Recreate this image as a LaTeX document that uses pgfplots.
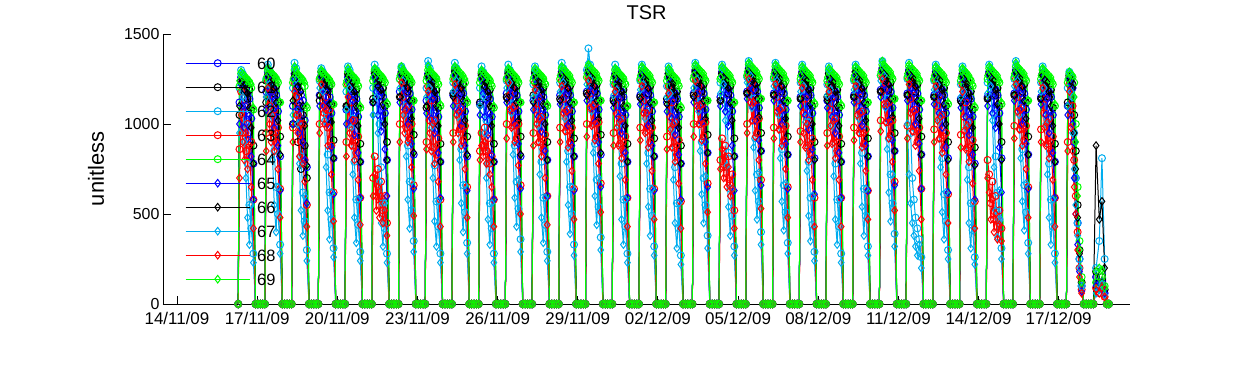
\documentclass[border=0pt]{standalone}
\usepackage{pgfplots}
\pgfplotsset{compat=1.18}
\usepackage{pgfplotstable}
\usepackage{fontspec}
\setmainfont{Liberation Sans}

\pgfplotstableread{
t a b c d e f g h i j
2.29 0 0 0 0 0 0 0 0 0 0
2.34 1120 1050 1200 860 1210 1000 1100 950 700 1240
2.40 1260 1240 1300 1180 1280 1220 1230 1280 1050 1290
2.46 1240 1260 1280 950 1270 1100 1240 1150 900 1280
2.52 1220 1180 1240 1100 1260 980 1190 900 800 1270
2.58 1190 1230 1000 850 1250 1100 1220 700 950 1260
2.64 1170 1140 780 1000 1240 920 1170 480 750 1250
2.71 1140 1190 550 820 1230 1050 1090 330 880 1240
2.78 1030 1080 420 900 1200 820 980 550 650 1220
2.86 780 880 280 580 1080 580 780 230 420 1090
2.94 0 0 0 0 0 0 0 0 0 0
3.03 0 0 0 0 0 0 0 0 0 0
3.12 0 0 0 0 0 0 0 0 0 0
3.21 0 0 0 0 0 0 0 0 0 0
3.29 0 0 0 0 0 0 0 0 0 0
3.34 1180 1120 1250 950 1240 1080 1150 1150 850 1260
3.40 1290 1270 1330 1240 1300 1260 1270 1320 1200 1310
3.46 1260 1280 1300 1100 1290 1180 1260 1220 1000 1300
3.52 1240 1220 1270 1180 1280 1050 1220 1050 900 1290
3.58 1210 1250 1100 950 1270 1150 1240 800 1050 1280
3.64 1190 1170 850 1080 1260 980 1200 550 850 1270
3.71 1160 1210 650 900 1250 1100 1120 400 950 1260
3.78 1070 1120 500 980 1230 880 1020 650 750 1240
3.86 820 930 330 640 1120 630 830 280 480 1120
3.94 0 0 0 0 0 0 0 0 0 0
4.03 0 0 0 0 0 0 0 0 0 0
4.12 0 0 0 0 0 0 0 0 0 0
4.21 0 0 0 0 0 0 0 0 0 0
4.29 0 0 0 0 0 0 0 0 0 0
4.34 1100 1000 1200 980 1230 1000 1130 1050 900 1250
4.40 1280 1260 1340 1230 1300 1250 1280 1310 1180 1320
4.46 1240 1150 1310 1150 1280 1200 1260 1250 1050 1300
4.52 1210 900 1260 1050 1270 1080 1210 1000 950 1280
4.58 1190 1100 1080 1120 1260 950 1230 780 820 1270
4.64 1160 750 820 900 1250 1120 1180 520 1000 1260
4.71 1130 1050 620 1000 1240 900 1100 380 780 1250
4.78 1020 880 460 800 1210 800 990 600 680 1230
4.86 760 700 300 550 1090 560 770 240 430 1100
4.94 0 0 0 0 0 0 0 0 0 0
5.03 0 0 0 0 0 0 0 0 0 0
5.12 0 0 0 0 0 0 0 0 0 0
5.21 0 0 0 0 0 0 0 0 0 0
5.29 0 0 0 0 0 0 0 0 0 0
5.34 1160 1130 1240 1000 1250 1100 1160 1200 950 1260
5.40 1270 1290 1310 1250 1290 1260 1270 1300 1220 1300
5.46 1250 1260 1290 1180 1280 1200 1250 1180 1100 1290
5.52 1230 1230 1240 1060 1270 1100 1220 1020 1000 1280
5.58 1210 1250 1070 1150 1260 1180 1240 760 1080 1270
5.64 1190 1180 830 980 1250 1000 1190 520 880 1260
5.71 1150 1210 620 1080 1240 1120 1110 360 980 1250
5.78 1060 1110 470 880 1220 870 1010 620 720 1230
5.86 810 910 310 620 1110 610 810 260 460 1110
5.94 0 0 0 0 0 0 0 0 0 0
6.03 0 0 0 0 0 0 0 0 0 0
6.12 0 0 0 0 0 0 0 0 0 0
6.21 0 0 0 0 0 0 0 0 0 0
6.29 0 0 0 0 0 0 0 0 0 0
6.34 1080 1100 1180 900 1220 1000 1100 1080 820 1240
6.40 1260 1280 1320 1220 1290 1240 1270 1300 1150 1310
6.46 1240 1260 1300 1000 1280 1150 1250 1200 950 1290
6.52 1220 1210 1250 1120 1270 1020 1200 980 880 1280
6.58 1190 1240 1030 880 1260 1130 1230 720 1020 1270
6.64 1170 1150 790 1020 1250 940 1180 480 800 1260
6.71 1140 1190 580 840 1240 1070 1100 340 900 1250
6.78 1040 1090 440 930 1210 840 990 580 690 1220
6.86 790 890 290 590 1090 590 790 240 440 1100
6.94 0 0 0 0 0 0 0 0 0 0
7.03 0 0 0 0 0 0 0 0 0 0
7.12 0 0 0 0 0 0 0 0 0 0
7.21 0 0 0 0 0 0 0 0 0 0
7.29 0 0 0 0 0 0 0 0 0 0
7.34 1120 1140 1200 700 1240 1050 1120 1050 600 1260
7.40 1280 1290 1330 820 1300 1260 1280 1310 720 1310
7.46 1250 1270 1300 600 1290 1180 1260 1150 520 1300
7.52 1230 1220 1260 750 1280 1050 1210 950 650 1290
7.58 1200 1250 1000 550 1270 1150 1240 680 480 1280
7.64 1180 1160 760 680 1260 960 1190 450 600 1270
7.71 1150 1200 560 520 1250 1090 1110 320 450 1260
7.78 1060 1100 420 600 1230 860 1000 560 520 1240
7.86 800 900 280 450 1110 600 800 230 380 1120
7.94 0 0 0 0 0 0 0 0 0 0
8.03 0 0 0 0 0 0 0 0 0 0
8.12 0 0 0 0 0 0 0 0 0 0
8.21 0 0 0 0 0 0 0 0 0 0
8.29 0 0 0 0 0 0 0 0 0 0
8.34 1180 1150 1250 1000 1250 1120 1150 1200 900 1270
8.40 1290 1280 1320 1260 1310 1270 1280 1310 1230 1320
8.46 1260 1280 1300 1150 1290 1200 1260 1240 1050 1300
8.52 1240 1230 1270 1200 1280 1080 1230 1050 950 1290
8.58 1220 1250 1100 980 1270 1170 1250 820 1080 1280
8.64 1200 1180 880 1100 1260 1000 1200 580 900 1270
8.71 1170 1220 680 920 1250 1120 1130 420 980 1260
8.78 1080 1130 520 1000 1230 890 1030 680 760 1240
8.86 830 940 350 660 1130 640 840 290 490 1130
8.94 0 0 0 0 0 0 0 0 0 0
9.03 0 0 0 0 0 0 0 0 0 0
9.12 0 0 0 0 0 0 0 0 0 0
9.21 0 0 0 0 0 0 0 0 0 0
9.29 0 0 0 0 0 0 0 0 0 0
9.34 1130 1090 1200 900 1240 1060 1100 1150 860 1260
9.40 1280 1270 1350 1210 1300 1250 1270 1330 1180 1320
9.46 1250 1260 1310 1020 1290 1160 1250 1200 950 1300
9.52 1220 1200 1260 1130 1280 1030 1210 980 850 1290
9.58 1190 1240 1020 870 1270 1140 1230 700 1000 1280
9.64 1170 1140 770 1020 1260 950 1180 460 780 1270
9.71 1140 1190 570 830 1250 1070 1100 320 880 1260
9.78 1040 1090 430 920 1220 840 990 570 680 1230
9.86 790 890 280 580 1100 590 790 230 430 1110
9.94 0 0 0 0 0 0 0 0 0 0
10.03 0 0 0 0 0 0 0 0 0 0
10.12 0 0 0 0 0 0 0 0 0 0
10.21 0 0 0 0 0 0 0 0 0 0
10.29 0 0 0 0 0 0 0 0 0 0
10.34 1160 1170 1230 950 1250 1100 1150 1180 900 1270
10.40 1290 1300 1340 1250 1310 1270 1290 1320 1220 1320
10.46 1260 1280 1310 1130 1290 1200 1270 1240 1050 1310
10.52 1240 1230 1270 1190 1280 1070 1230 1040 950 1300
10.58 1220 1250 1090 970 1270 1160 1250 800 1070 1290
10.64 1200 1170 860 1090 1260 990 1200 560 880 1280
10.71 1170 1220 660 910 1250 1110 1130 400 970 1270
10.78 1070 1120 510 990 1230 880 1020 660 750 1250
10.86 820 930 340 650 1120 630 830 280 480 1130
10.94 0 0 0 0 0 0 0 0 0 0
11.03 0 0 0 0 0 0 0 0 0 0
11.12 0 0 0 0 0 0 0 0 0 0
11.21 0 0 0 0 0 0 0 0 0 0
11.29 0 0 0 0 0 0 0 0 0 0
11.34 1110 1120 1200 850 1230 1050 1100 1100 800 1250
11.40 1270 1280 1320 950 1290 1250 1270 1300 880 1300
11.46 1240 1260 1290 880 1280 1170 1250 1150 820 1290
11.52 1220 1210 1250 980 1270 1040 1210 950 900 1280
11.58 1190 1240 1020 850 1260 1130 1230 700 780 1270
11.64 1170 1150 780 920 1250 940 1180 470 850 1260
11.71 1140 1190 560 780 1240 1060 1100 330 720 1250
11.78 1040 1090 420 820 1210 830 990 560 650 1220
11.86 790 890 280 580 1090 580 790 230 430 1100
11.94 0 0 0 0 0 0 0 0 0 0
12.03 0 0 0 0 0 0 0 0 0 0
12.12 0 0 0 0 0 0 0 0 0 0
12.21 0 0 0 0 0 0 0 0 0 0
12.29 0 0 0 0 0 0 0 0 0 0
12.34 1170 1150 1240 1000 1250 1120 1140 1200 920 1260
12.40 1290 1280 1330 1250 1300 1260 1280 1310 1230 1310
12.46 1260 1270 1300 1160 1290 1200 1260 1230 1080 1300
12.52 1240 1220 1270 1200 1280 1080 1230 1060 980 1290
12.58 1210 1250 1110 990 1270 1170 1240 830 1090 1280
12.64 1190 1170 880 1100 1260 1000 1200 590 900 1270
12.71 1160 1210 680 920 1250 1120 1120 430 990 1260
12.78 1070 1120 530 1000 1230 890 1020 690 770 1240
12.86 820 930 360 660 1120 640 830 290 500 1120
12.94 0 0 0 0 0 0 0 0 0 0
13.03 0 0 0 0 0 0 0 0 0 0
13.12 0 0 0 0 0 0 0 0 0 0
13.21 0 0 0 0 0 0 0 0 0 0
13.29 0 0 0 0 0 0 0 0 0 0
13.34 1130 1160 1220 950 1240 1080 1120 1150 880 1260
13.40 1280 1290 1320 1230 1300 1250 1280 1300 1190 1310
13.46 1250 1270 1290 1080 1290 1170 1260 1180 1000 1300
13.52 1230 1220 1250 1150 1280 1040 1210 990 900 1290
13.58 1200 1240 1040 900 1270 1140 1230 720 1030 1280
13.64 1180 1160 790 1040 1260 960 1190 480 820 1270
13.71 1150 1200 590 860 1250 1080 1110 340 910 1260
13.78 1050 1100 440 940 1220 850 1000 590 700 1230
13.86 800 900 290 600 1100 600 800 240 440 1110
13.94 0 0 0 0 0 0 0 0 0 0
14.03 0 0 0 0 0 0 0 0 0 0
14.12 0 0 0 0 0 0 0 0 0 0
14.21 0 0 0 0 0 0 0 0 0 0
14.29 0 0 0 0 0 0 0 0 0 0
14.34 1160 1140 1230 980 1250 1110 1130 1180 900 1270
14.40 1290 1280 1340 1240 1310 1270 1280 1320 1210 1320
14.46 1260 1270 1310 1140 1290 1190 1260 1230 1060 1310
14.52 1240 1220 1270 1190 1280 1070 1230 1030 960 1300
14.58 1210 1250 1080 960 1270 1160 1240 790 1070 1290
14.64 1190 1170 850 1080 1260 990 1200 550 870 1280
14.71 1160 1210 650 900 1250 1110 1120 390 960 1270
14.78 1070 1110 500 980 1230 880 1020 650 740 1240
14.86 820 920 330 640 1120 630 820 270 470 1120
14.94 0 0 0 0 0 0 0 0 0 0
15.03 0 0 0 0 0 0 0 0 0 0
15.12 0 0 0 0 0 0 0 0 0 0
15.21 0 0 0 0 0 0 0 0 0 0
15.29 0 0 0 0 0 0 0 0 0 0
15.34 1180 1170 1300 1000 1260 1130 1160 1220 930 1280
15.40 1300 1290 1420 1260 1320 1280 1290 1340 1240 1330
15.46 1270 1280 1330 1170 1300 1210 1270 1250 1090 1320
15.52 1250 1230 1280 1210 1290 1090 1240 1070 990 1310
15.58 1220 1260 1120 1000 1280 1180 1250 840 1100 1300
15.64 1200 1180 890 1110 1270 1010 1210 600 910 1290
15.71 1170 1220 690 930 1260 1130 1130 440 1000 1280
15.78 1080 1130 540 1010 1240 900 1030 700 780 1250
15.86 830 940 370 670 1130 650 840 300 510 1130
15.94 0 0 0 0 0 0 0 0 0 0
16.03 0 0 0 0 0 0 0 0 0 0
16.12 0 0 0 0 0 0 0 0 0 0
16.21 0 0 0 0 0 0 0 0 0 0
16.29 0 0 0 0 0 0 0 0 0 0
16.34 1140 1130 1220 950 1240 1090 1120 1160 880 1260
16.40 1280 1270 1330 1220 1300 1250 1270 1310 1180 1310
16.46 1250 1260 1300 1060 1290 1170 1250 1190 980 1300
16.52 1230 1210 1260 1140 1280 1040 1210 990 880 1290
16.58 1200 1240 1030 890 1270 1140 1230 710 1020 1280
16.64 1180 1150 780 1030 1260 950 1180 470 810 1270
16.71 1150 1190 580 850 1250 1070 1100 330 900 1260
16.78 1050 1090 430 930 1220 840 990 580 690 1230
16.86 790 890 280 590 1100 590 790 230 430 1100
16.94 0 0 0 0 0 0 0 0 0 0
17.03 0 0 0 0 0 0 0 0 0 0
17.12 0 0 0 0 0 0 0 0 0 0
17.21 0 0 0 0 0 0 0 0 0 0
17.29 0 0 0 0 0 0 0 0 0 0
17.34 1160 1150 1240 980 1250 1110 1140 1190 910 1270
17.40 1290 1280 1330 1240 1310 1270 1280 1320 1210 1320
17.46 1260 1270 1300 1130 1290 1190 1260 1220 1060 1310
17.52 1240 1220 1270 1190 1280 1070 1230 1030 950 1300
17.58 1210 1250 1070 960 1270 1160 1240 780 1060 1290
17.64 1190 1170 840 1080 1260 990 1200 540 870 1280
17.71 1160 1210 640 900 1250 1110 1120 380 960 1270
17.78 1070 1110 490 980 1230 880 1020 640 740 1240
17.86 820 920 320 640 1120 630 820 270 470 1120
17.94 0 0 0 0 0 0 0 0 0 0
18.03 0 0 0 0 0 0 0 0 0 0
18.12 0 0 0 0 0 0 0 0 0 0
18.21 0 0 0 0 0 0 0 0 0 0
18.29 0 0 0 0 0 0 0 0 0 0
18.34 1120 1140 1210 930 1240 1070 1110 1150 860 1260
18.40 1280 1280 1320 1210 1300 1250 1270 1300 1170 1310
18.46 1250 1260 1290 1040 1280 1160 1250 1170 970 1300
18.52 1220 1210 1250 1120 1270 1030 1200 970 870 1280
18.58 1190 1230 1010 870 1260 1130 1220 690 1000 1270
18.64 1170 1140 760 1010 1250 940 1170 450 790 1260
18.71 1140 1180 560 830 1240 1060 1090 310 880 1250
18.78 1040 1080 420 910 1210 830 980 560 670 1220
18.86 780 880 270 570 1090 580 780 220 420 1100
18.94 0 0 0 0 0 0 0 0 0 0
19.03 0 0 0 0 0 0 0 0 0 0
19.12 0 0 0 0 0 0 0 0 0 0
19.21 0 0 0 0 0 0 0 0 0 0
19.29 0 0 0 0 0 0 0 0 0 0
19.34 1170 1160 1250 1000 1250 1120 1150 1200 930 1270
19.40 1300 1290 1340 1260 1320 1280 1290 1330 1240 1330
19.46 1270 1280 1310 1170 1300 1210 1270 1250 1100 1320
19.52 1250 1230 1280 1210 1290 1090 1240 1070 1000 1310
19.58 1220 1260 1120 1000 1280 1180 1250 850 1100 1300
19.64 1200 1180 900 1110 1270 1010 1210 610 910 1290
19.71 1170 1220 700 930 1260 1130 1130 450 1000 1280
19.78 1080 1130 550 1010 1240 900 1030 710 780 1250
19.86 840 940 380 670 1130 650 840 310 510 1130
19.94 0 0 0 0 0 0 0 0 0 0
20.03 0 0 0 0 0 0 0 0 0 0
20.12 0 0 0 0 0 0 0 0 0 0
20.21 0 0 0 0 0 0 0 0 0 0
20.29 0 0 0 0 0 0 0 0 0 0
20.34 1150 1130 1230 800 1250 1100 1130 1170 750 1260
20.40 1290 1280 1330 920 1310 1270 1280 1310 860 1320
20.46 1260 1270 1300 760 1290 1190 1260 1220 700 1310
20.52 1240 1220 1270 880 1280 1070 1220 1020 820 1300
20.58 1210 1250 1070 700 1270 1160 1240 770 650 1290
20.64 1190 1170 840 820 1260 990 1200 540 760 1280
20.71 1160 1210 640 660 1250 1110 1120 380 600 1270
20.78 1070 1110 490 720 1230 880 1020 640 640 1240
20.86 820 920 320 520 1120 630 820 270 420 1120
20.94 0 0 0 0 0 0 0 0 0 0
21.03 0 0 0 0 0 0 0 0 0 0
21.12 0 0 0 0 0 0 0 0 0 0
21.21 0 0 0 0 0 0 0 0 0 0
21.29 0 0 0 0 0 0 0 0 0 0
21.34 1180 1170 1260 1000 1270 1140 1170 1230 950 1290
21.40 1310 1300 1350 1270 1330 1290 1300 1340 1250 1340
21.46 1280 1290 1320 1190 1310 1220 1280 1270 1120 1330
21.52 1260 1240 1290 1230 1300 1100 1250 1090 1020 1320
21.58 1230 1270 1140 1020 1290 1190 1260 870 1120 1310
21.64 1210 1190 920 1130 1280 1020 1220 630 930 1300
21.71 1180 1230 720 950 1270 1140 1140 470 1020 1290
21.78 1090 1140 570 1030 1250 910 1040 730 800 1260
21.86 850 950 400 690 1140 660 850 330 530 1140
21.94 0 0 0 0 0 0 0 0 0 0
22.03 0 0 0 0 0 0 0 0 0 0
22.12 0 0 0 0 0 0 0 0 0 0
22.21 0 0 0 0 0 0 0 0 0 0
22.29 0 0 0 0 0 0 0 0 0 0
22.34 1170 1160 1250 980 1260 1130 1160 1210 920 1280
22.40 1300 1290 1340 1250 1320 1280 1290 1330 1220 1330
22.46 1270 1280 1310 1150 1300 1200 1270 1240 1070 1320
22.52 1250 1230 1280 1200 1290 1080 1240 1050 970 1310
22.58 1220 1260 1090 970 1280 1170 1250 810 1080 1300
22.64 1200 1180 860 1090 1270 1000 1210 570 880 1290
22.71 1170 1220 660 910 1260 1120 1130 410 970 1280
22.78 1080 1120 510 990 1240 890 1030 670 750 1250
22.86 830 930 340 650 1130 640 830 280 480 1130
22.94 0 0 0 0 0 0 0 0 0 0
23.03 0 0 0 0 0 0 0 0 0 0
23.12 0 0 0 0 0 0 0 0 0 0
23.21 0 0 0 0 0 0 0 0 0 0
23.29 0 0 0 0 0 0 0 0 0 0
23.34 1150 1140 1230 960 1250 1100 1140 1180 900 1270
23.40 1290 1280 1330 1230 1310 1270 1280 1320 1200 1320
23.46 1260 1270 1300 1060 1290 1180 1260 1210 950 1310
23.52 1240 1220 1260 1140 1280 1050 1220 1010 870 1300
23.58 1210 1250 1040 880 1270 1150 1240 740 1000 1290
23.64 1190 1160 790 1020 1260 970 1190 490 800 1280
23.71 1160 1200 590 840 1250 1090 1110 350 890 1270
23.78 1060 1100 440 920 1230 860 1000 600 690 1240
23.86 810 900 290 590 1110 610 800 240 430 1120
23.94 0 0 0 0 0 0 0 0 0 0
24.03 0 0 0 0 0 0 0 0 0 0
24.12 0 0 0 0 0 0 0 0 0 0
24.21 0 0 0 0 0 0 0 0 0 0
24.29 0 0 0 0 0 0 0 0 0 0
24.34 1130 1150 1220 950 1240 1090 1130 1160 880 1260
24.40 1280 1280 1320 1220 1300 1250 1270 1300 1180 1310
24.46 1250 1260 1290 1080 1280 1170 1250 1190 990 1300
24.52 1230 1210 1260 1150 1270 1040 1210 990 890 1290
24.58 1200 1240 1030 900 1260 1140 1230 710 1020 1280
24.64 1180 1150 780 1030 1250 950 1180 470 810 1270
24.71 1150 1190 580 850 1240 1070 1100 330 900 1260
24.78 1050 1090 430 930 1220 840 990 580 690 1230
24.86 790 890 280 590 1100 590 790 230 430 1110
24.94 0 0 0 0 0 0 0 0 0 0
25.03 0 0 0 0 0 0 0 0 0 0
25.12 0 0 0 0 0 0 0 0 0 0
25.21 0 0 0 0 0 0 0 0 0 0
25.29 0 0 0 0 0 0 0 0 0 0
25.34 1160 1150 1240 980 1250 1120 1150 1190 910 1270
25.40 1290 1290 1330 1240 1310 1270 1290 1320 1210 1320
25.46 1260 1270 1300 1130 1290 1190 1260 1220 1050 1310
25.52 1240 1220 1270 1180 1280 1070 1230 1030 950 1300
25.58 1210 1250 1070 950 1270 1160 1240 780 1060 1290
25.64 1190 1170 840 1070 1260 990 1200 540 870 1280
25.71 1160 1210 640 890 1250 1110 1120 380 950 1270
25.78 1070 1110 490 970 1230 880 1020 640 740 1240
25.86 820 920 320 630 1120 630 820 270 470 1120
25.94 0 0 0 0 0 0 0 0 0 0
26.03 0 0 0 0 0 0 0 0 0 0
26.12 0 0 0 0 0 0 0 0 0 0
26.21 0 0 0 0 0 0 0 0 0 0
26.29 0 0 0 0 0 0 0 0 0 0
26.34 1190 1180 1270 1020 1270 1150 1180 1240 960 1290
26.40 1310 1300 1350 1270 1330 1290 1300 1340 1250 1350
26.46 1280 1290 1320 1190 1310 1220 1280 1270 1110 1330
26.52 1260 1240 1290 1230 1300 1100 1250 1090 1010 1320
26.58 1230 1270 1140 1010 1290 1190 1260 860 1110 1310
26.64 1210 1190 920 1120 1280 1020 1220 620 920 1300
26.71 1180 1230 720 940 1270 1140 1140 460 1010 1290
26.78 1090 1140 560 1020 1250 910 1040 720 790 1260
26.86 850 950 390 680 1140 660 850 320 520 1140
26.94 0 0 0 0 0 0 0 0 0 0
27.03 0 0 0 0 0 0 0 0 0 0
27.12 0 0 0 0 0 0 0 0 0 0
27.21 0 0 0 0 0 0 0 0 0 0
27.29 0 0 0 0 0 0 0 0 0 0
27.34 1170 1160 1250 990 1260 1130 1160 1000 920 1280
27.40 1300 1290 1340 1250 1320 1280 1290 720 1220 1330
27.46 1270 1280 950 1140 1300 1200 1270 560 1060 1320
27.52 1250 1230 700 1190 1290 1080 1240 450 960 1310
27.58 1220 1260 580 960 1280 1170 1250 380 1070 1300
27.64 1200 1180 480 1080 1270 1000 1210 320 880 1290
27.71 1170 1220 420 900 1260 1120 1130 270 960 1280
27.78 1080 1120 360 980 1240 890 1030 330 740 1250
27.86 830 930 260 640 1130 640 830 200 470 1130
27.94 0 0 0 0 0 0 0 0 0 0
28.03 0 0 0 0 0 0 0 0 0 0
28.12 0 0 0 0 0 0 0 0 0 0
28.21 0 0 0 0 0 0 0 0 0 0
28.29 0 0 0 0 0 0 0 0 0 0
28.34 1160 1150 1240 970 1250 1110 1150 1190 900 1270
28.40 1290 1280 1330 1240 1310 1270 1280 1320 1210 1320
28.46 1260 1270 1300 1100 1290 1190 1260 1220 1020 1310
28.52 1240 1220 1260 1160 1280 1060 1220 1020 920 1300
28.58 1210 1250 1050 920 1270 1150 1240 760 1040 1290
28.64 1190 1160 810 1050 1260 980 1190 510 840 1280
28.71 1160 1200 610 870 1250 1100 1110 360 930 1270
28.78 1060 1100 460 950 1230 870 1000 620 720 1240
28.86 810 900 300 610 1110 620 800 250 450 1120
28.94 0 0 0 0 0 0 0 0 0 0
29.03 0 0 0 0 0 0 0 0 0 0
29.12 0 0 0 0 0 0 0 0 0 0
29.21 0 0 0 0 0 0 0 0 0 0
29.29 0 0 0 0 0 0 0 0 0 0
29.34 1140 1130 1220 940 1240 1090 1120 1150 870 1260
29.40 1280 1270 1320 1220 1300 1250 1270 1310 1180 1310
29.46 1250 1260 1290 1040 1280 1170 1250 1180 960 1300
29.52 1230 1210 1250 1120 1270 1040 1200 980 860 1290
29.58 1200 1240 1010 870 1260 1130 1220 690 990 1280
29.64 1170 1140 760 1010 1250 940 1170 450 790 1270
29.71 1140 1180 560 830 1240 1060 1090 310 880 1250
29.78 1040 1080 410 910 1210 830 980 560 670 1220
29.86 780 870 260 570 1090 580 770 220 420 1100
29.94 0 0 0 0 0 0 0 0 0 0
30.03 0 0 0 0 0 0 0 0 0 0
30.12 0 0 0 0 0 0 0 0 0 0
30.21 0 0 0 0 0 0 0 0 0 0
30.29 0 0 0 0 0 0 0 0 0 0
30.34 1150 1140 1230 800 1250 1100 1140 1170 700 1270
30.40 1290 1280 1330 720 1310 1270 1280 1320 620 1320
30.46 1260 1270 1300 560 1290 1190 1260 1210 470 1310
30.52 1240 1220 1260 680 1280 1060 1220 1020 580 1300
30.58 1210 1250 1060 470 1270 1150 1240 760 400 1290
30.64 1190 1160 820 600 1260 980 1190 520 500 1280
30.71 1160 1200 620 430 1250 1100 1110 370 360 1270
30.78 1060 1100 470 520 1230 870 1000 630 440 1240
30.86 810 900 310 420 1110 620 800 250 350 1120
30.94 0 0 0 0 0 0 0 0 0 0
31.03 0 0 0 0 0 0 0 0 0 0
31.12 0 0 0 0 0 0 0 0 0 0
31.21 0 0 0 0 0 0 0 0 0 0
31.29 0 0 0 0 0 0 0 0 0 0
31.34 1170 1160 1250 990 1260 1130 1160 1210 920 1280
31.40 1300 1290 1350 1250 1320 1280 1290 1330 1220 1340
31.46 1270 1280 1310 1150 1300 1200 1270 1240 1070 1320
31.52 1250 1230 1280 1200 1290 1080 1240 1050 970 1310
31.58 1220 1260 1090 970 1280 1170 1250 810 1080 1300
31.64 1200 1180 860 1090 1270 1000 1210 570 880 1290
31.71 1170 1220 660 910 1260 1120 1130 410 970 1280
31.78 1080 1120 510 990 1240 890 1030 670 750 1250
31.86 830 930 340 650 1130 640 830 280 480 1130
31.94 0 0 0 0 0 0 0 0 0 0
32.03 0 0 0 0 0 0 0 0 0 0
32.12 0 0 0 0 0 0 0 0 0 0
32.21 0 0 0 0 0 0 0 0 0 0
32.29 0 0 0 0 0 0 0 0 0 0
32.34 1150 1140 1230 970 1250 1110 1140 1180 900 1270
32.40 1280 1280 1320 1230 1300 1260 1270 1310 1200 1310
32.46 1250 1260 1290 1060 1280 1180 1250 1200 980 1300
32.52 1230 1210 1260 1140 1270 1050 1210 1000 880 1290
32.58 1200 1240 1030 890 1260 1140 1230 720 1010 1280
32.64 1180 1150 780 1030 1250 950 1180 480 810 1270
32.71 1150 1190 580 850 1240 1070 1100 330 900 1260
32.78 1050 1090 430 930 1220 840 990 580 690 1230
32.86 790 890 280 590 1100 590 790 230 430 1110
32.94 0 0 0 0 0 0 0 0 0 0
33.03 0 0 0 0 0 0 0 0 0 0
33.12 0 0 0 0 0 0 0 0 0 0
33.21 0 0 0 0 0 0 0 0 0 0
33.29 0 0 0 0 0 0 0 0 0 0
33.34 1100 1120 1200 900 1230 1050 1100 1100 850 1250
33.40 1260 1270 1290 1220 1280 1240 1260 1280 1180 1290
33.46 1240 1250 1260 1050 1270 1200 1240 1180 980 1280
33.52 1200 1220 1150 1100 1260 1000 1200 950 850 1270
33.58 900 1050 950 800 1230 700 950 750 650 1150
33.64 700 850 700 600 1000 500 750 550 500 900
33.71 450 550 450 400 650 330 480 380 300 600
33.78 250 300 250 200 350 180 280 200 150 300
33.86 100 120 100 80 150 70 120 90 60 120
33.94 0 0 0 0 0 0 0 0 0 0
34.03 0 0 0 0 0 0 0 0 0 0
34.12 0 0 0 0 0 0 0 0 0 0
34.21 0 0 0 0 0 0 0 0 0 0
34.30 0 0 0 0 0 0 0 0 0 0
34.40 150 180 200 90 120 100 880 60 80 180
34.52 100 120 350 60 90 80 470 80 60 200
34.62 120 150 810 100 150 90 570 110 90 190
34.72 60 80 250 40 100 60 200 50 40 90
34.80 0 0 0 0 0 0 0 0 0 0
34.88 0 0 0 0 0 0 0 0 0 0
}\tsrdata

\begin{document}
\begin{tikzpicture}
\begin{axis}[
  at={(0,0)}, anchor=south west,
  scale only axis, width=967bp, height=270bp,
  xmin=-0.524, xmax=35.67, ymin=0, ymax=1500,
  axis x line*=bottom, axis y line*=left,
  axis line style={black, line width=0.9bp, -},
  tick align=inside, major tick length=8bp,
  tick style={black, line width=0.9bp},
  xtick={0,3,6,9,12,15,18,21,24,27,30,33},
  xticklabels={14/11/09,17/11/09,20/11/09,23/11/09,26/11/09,29/11/09,02/12/09,05/12/09,08/12/09,11/12/09,14/12/09,17/12/09},
  ytick={0,500,1000,1500},
  yticklabels={0,500,1000,1500},
  yticklabel style={font=\fontsize{16}{19}\selectfont},
  xticklabel style={font=\fontsize{17}{20}\selectfont, yshift=-5bp},
  title={TSR},
  title style={font=\fontsize{20}{24}\selectfont, at={(axis description cs:0.5,1)}, anchor=base, yshift=9bp},
  ylabel={unitless},
  ylabel style={font=\fontsize{22}{26}\selectfont, at={(axis description cs:-0.0693,0.5)}, anchor=center},
  clip=false,
  every axis plot/.append style={line width=1bp, mark size=3.5bp, mark options={solid, line width=1bp}},
  legend image code/.code={\draw[mark repeat=2,mark phase=2] plot coordinates {(0bp,0bp)(32bp,0bp)(64bp,0bp)};},
  legend style={at={(axis description cs:0,1)}, anchor=north west, xshift=22bp, yshift=-23bp,
    draw=none, fill=none, inner sep=0pt, row sep=12bp,
    font=\fontsize{16.5}{19}\selectfont,
    nodes={inner sep=0pt, text height=12bp, text depth=0pt},
    cells={anchor=west},
    /tikz/every odd column/.append style={column sep=7bp}},
]
\addplot[blue, mark=o] table[x=t, y=a] {\tsrdata};
\addplot[black, mark=o] table[x=t, y=b] {\tsrdata};
\addplot[cyan, mark=o] table[x=t, y=c] {\tsrdata};
\addplot[red, mark=o] table[x=t, y=d] {\tsrdata};
\addplot[green, mark=o] table[x=t, y=e] {\tsrdata};
\addplot[blue, mark=diamond, mark size=3.8bp] table[x=t, y=f] {\tsrdata};
\addplot[black, mark=diamond, mark size=3.8bp] table[x=t, y=g] {\tsrdata};
\addplot[cyan, mark=diamond, mark size=3.8bp] table[x=t, y=h] {\tsrdata};
\addplot[red, mark=diamond, mark size=3.8bp] table[x=t, y=i] {\tsrdata};
\addplot[green, mark=diamond, mark size=3.8bp] table[x=t, y=j] {\tsrdata};
\legend{60,61,62,63,64,65,66,67,68,69}
\end{axis}
\pgfresetboundingbox
\path (-163bp,-61bp) rectangle (1087bp,304bp);
\end{tikzpicture}
\end{document}
